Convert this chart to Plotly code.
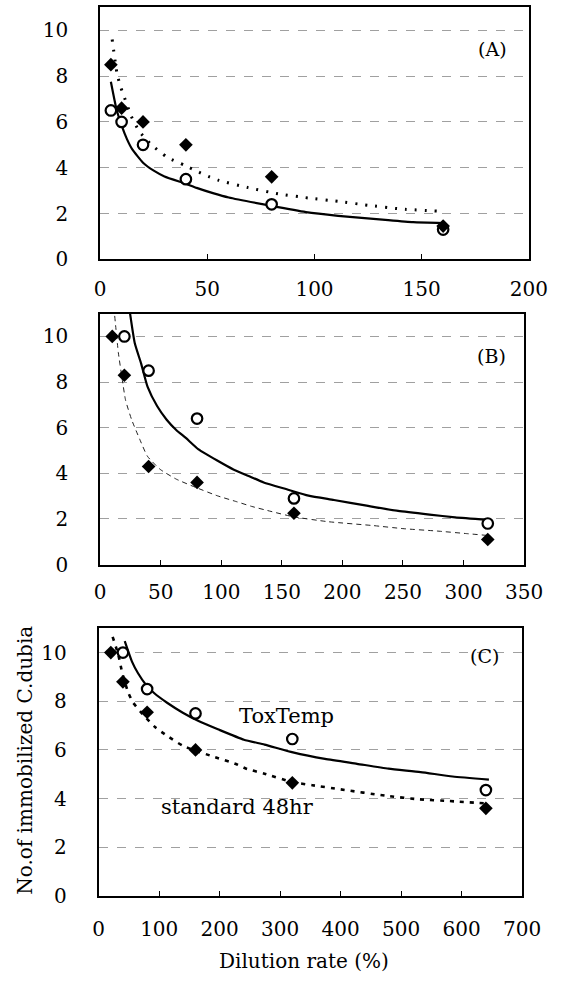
import plotly.graph_objects as go

FONT = "DejaVu Serif"
W, H = 567, 986

# ---------------- Panel (A) ----------------
a_x = [5, 10, 20, 40, 80, 160]
a_std = [8.5, 6.6, 6.0, 5.0, 3.6, 1.45]
a_tox = [6.5, 6.0, 5.0, 3.5, 2.4, 1.3]
a_tox_fit_x = [5, 7.5, 10, 12.5, 15, 20, 25, 30, 40, 45, 53, 60, 80, 96, 111, 133, 146, 160]
a_tox_fit_y = [7.75, 6.6, 5.85, 5.25, 4.8, 4.22, 3.87, 3.62, 3.3, 3.12, 2.88, 2.7, 2.33, 2.06, 1.9, 1.72, 1.62, 1.58]
a_std_fit_x = [5.6, 7.9, 9.3, 11.2, 14.5, 18.2, 23.3, 31.4, 39.5, 45, 50.5, 55, 69, 83, 97, 111, 125, 140, 158]
a_std_fit_y = [9.6, 8.1, 7.6, 7.1, 6.25, 5.6, 5.05, 4.45, 4.1, 3.85, 3.62, 3.46, 3.13, 2.86, 2.68, 2.53, 2.36, 2.2, 2.1]
a_xticks = [0, 50, 100, 150, 200]

# ---------------- Panel (B) ----------------
b_std_x = [10, 20, 40, 80, 160, 320]
b_std = [10.0, 8.3, 4.3, 3.6, 2.25, 1.1]
b_tox_x = [20, 40, 80, 160, 320]
b_tox = [10.0, 8.5, 6.4, 2.9, 1.8]
b_tox_fit_x = [24.7, 28.6, 33.9, 39.1, 47, 54.9, 62.8, 70.7, 81.2, 97, 110, 124, 135, 154, 172, 193, 220, 246, 272, 293, 320]
b_tox_fit_y = [11.0, 9.7, 8.8, 7.8, 6.95, 6.35, 5.9, 5.55, 5.05, 4.55, 4.17, 3.85, 3.6, 3.3, 3.02, 2.83, 2.58, 2.35, 2.19, 2.07, 1.96]
b_std_fit_x = [12, 15, 18, 21, 26, 32.6, 39, 49.6, 63, 79, 97, 113, 125, 141, 159, 188, 225, 251, 278, 304, 321]
b_std_fit_y = [10.9, 9.3, 8.2, 7.2, 6.35, 5.5, 4.75, 4.17, 3.74, 3.38, 3.01, 2.75, 2.55, 2.33, 2.1, 1.88, 1.71, 1.57, 1.47, 1.35, 1.27]
b_xticks = [0, 50, 100, 150, 200, 250, 300, 350]

# ---------------- Panel (C) ----------------
c_std_x = [20, 40, 80, 160, 320, 640]
c_std = [10.0, 8.8, 7.55, 6.0, 4.65, 3.6]
c_tox_x = [40, 80, 160, 320, 640]
c_tox = [10.0, 8.5, 7.5, 6.45, 4.35]
c_tox_fit_x = [43, 55, 65, 78, 91.5, 113, 139, 165, 197, 240, 274, 321, 374, 427, 479, 532, 585, 645]
c_tox_fit_y = [10.47, 9.63, 9.15, 8.68, 8.34, 7.94, 7.53, 7.19, 6.85, 6.42, 6.22, 5.9, 5.63, 5.43, 5.23, 5.09, 4.91, 4.78]
c_std_fit_x = [23, 32.5, 39, 49, 57, 73, 94, 113, 139, 160, 189, 226, 244, 274, 320, 353, 400, 474, 530, 580, 641]
c_std_fit_y = [10.65, 9.9, 9.15, 8.34, 7.94, 7.46, 6.92, 6.58, 6.17, 5.97, 5.73, 5.43, 5.23, 5.02, 4.68, 4.55, 4.38, 4.12, 3.97, 3.9, 3.8]
c_xticks = [0, 100, 200, 300, 400, 500, 600, 700]

y_ticks = [0, 2, 4, 6, 8, 10]
panel_labels = ["(A)", "(B)", "(C)"]

fig = go.Figure()

panels = [
    dict(ax="x", ay="y", sx=a_x, sy=a_std, tx=a_x, ty=a_tox,
         tfx=a_tox_fit_x, tfy=a_tox_fit_y, sfx=a_std_fit_x, sfy=a_std_fit_y,
         sdash="2px,8px", swidth=3, scolor="black"),
    dict(ax="x2", ay="y2", sx=b_std_x, sy=b_std, tx=b_tox_x, ty=b_tox,
         tfx=b_tox_fit_x, tfy=b_tox_fit_y, sfx=b_std_fit_x, sfy=b_std_fit_y,
         sdash="5px,4px", swidth=1, scolor="#222"),
    dict(ax="x3", ay="y3", sx=c_std_x, sy=c_std, tx=c_tox_x, ty=c_tox,
         tfx=c_tox_fit_x, tfy=c_tox_fit_y, sfx=c_std_fit_x, sfy=c_std_fit_y,
         sdash="4px,6px", swidth=2.6, scolor="black"),
]

for p in panels:
    fig.add_trace(go.Scatter(x=p["sfx"], y=p["sfy"], mode="lines", xaxis=p["ax"], yaxis=p["ay"],
                             line=dict(color=p["scolor"], width=p["swidth"], dash=p["sdash"], shape="spline", smoothing=0.5),
                             hoverinfo="skip"))
    fig.add_trace(go.Scatter(x=p["tfx"], y=p["tfy"], mode="lines", xaxis=p["ax"], yaxis=p["ay"],
                             line=dict(color="black", width=2.2, shape="spline", smoothing=0.5),
                             hoverinfo="skip"))
    fig.add_trace(go.Scatter(x=p["tx"], y=p["ty"], mode="markers", xaxis=p["ax"], yaxis=p["ay"],
                             marker=dict(symbol="circle", size=10.5, color="white",
                                         line=dict(color="black", width=2.2))))
    fig.add_trace(go.Scatter(x=p["sx"], y=p["sy"], mode="markers", xaxis=p["ax"], yaxis=p["ay"],
                             marker=dict(symbol="diamond", size=10.5, color="black",
                                         line=dict(color="black", width=0))))

def xd(l, r):
    return [l / W, r / W]

def yd(top, bottom):
    return [1 - bottom / H, 1 - top / H]

tickfont = dict(family=FONT, size=20, color="black")

def xaxis(rng, ticks, dom, anchor, standoff):
    return dict(range=rng, tickvals=ticks, domain=dom, anchor=anchor,
                showline=True, linecolor="black", linewidth=2, mirror=True,
                showgrid=False, zeroline=False, ticks="inside", ticklen=5,
                tickcolor="black", tickwidth=1, tickfont=tickfont,
                ticklabelstandoff=standoff)

def yaxis(dom, anchor):
    return dict(range=[0, 11], tickvals=y_ticks, domain=dom, anchor=anchor,
                showline=True, linecolor="black", linewidth=2, mirror=True,
                showgrid=True, gridcolor="#a0a0a0", gridwidth=1, griddash="dash",
                zeroline=False, ticks="", tickfont=tickfont, ticklabelstandoff=26)

fig.update_layout(
    width=W, height=H,
    margin=dict(l=0, r=0, t=0, b=0),
    paper_bgcolor="white", plot_bgcolor="white",
    showlegend=False,
    xaxis=xaxis([0, 200], a_xticks, xd(98.5, 547), "y", 11),
    yaxis=yaxis(yd(7.5, 262.5), "x"),
    xaxis2=xaxis([0, 350], b_xticks, xd(98.5, 542), "y2", 8),
    yaxis2=yaxis(yd(317.5, 571.5), "x2"),
    xaxis3=xaxis([0, 700], c_xticks, xd(97, 540), "y3", 14),
    yaxis3=yaxis(yd(636, 907), "x3"),
)

ann_font = dict(family=FONT, size=19, color="black")
txt_font = dict(family=FONT, size=21, color="black")
annotations = [
    dict(text=panel_labels[0], x=183, y=9.17, xref="x", yref="y", showarrow=False, font=ann_font,
         xanchor="center", yanchor="middle"),
    dict(text=panel_labels[1], x=323, y=9.13, xref="x2", yref="y2", showarrow=False, font=ann_font,
         xanchor="center", yanchor="middle"),
    dict(text=panel_labels[2], x=637, y=9.84, xref="x3", yref="y3", showarrow=False, font=ann_font,
         xanchor="center", yanchor="middle"),
    dict(text="ToxTemp", x=310, y=7.4, xref="x3", yref="y3", showarrow=False, font=txt_font,
         xanchor="center", yanchor="middle"),
    dict(text="standard 48hr", x=230, y=3.65, xref="x3", yref="y3", showarrow=False, font=txt_font,
         xanchor="center", yanchor="middle"),
    dict(text="No.of immobilized C.dubia", x=20 / W, y=1 - 770 / H, xref="paper", yref="paper",
         textangle=-90, showarrow=False, font=dict(family=FONT, size=20, color="black"),
         xanchor="center", yanchor="middle"),
    dict(text="Dilution rate (%)", x=312 / W, y=1 - 973 / H, xref="paper", yref="paper",
         showarrow=False, font=dict(family=FONT, size=20, color="black"),
         xanchor="center", yanchor="middle"),
]
fig.update_layout(annotations=annotations)

fig.write_html("out.html")
